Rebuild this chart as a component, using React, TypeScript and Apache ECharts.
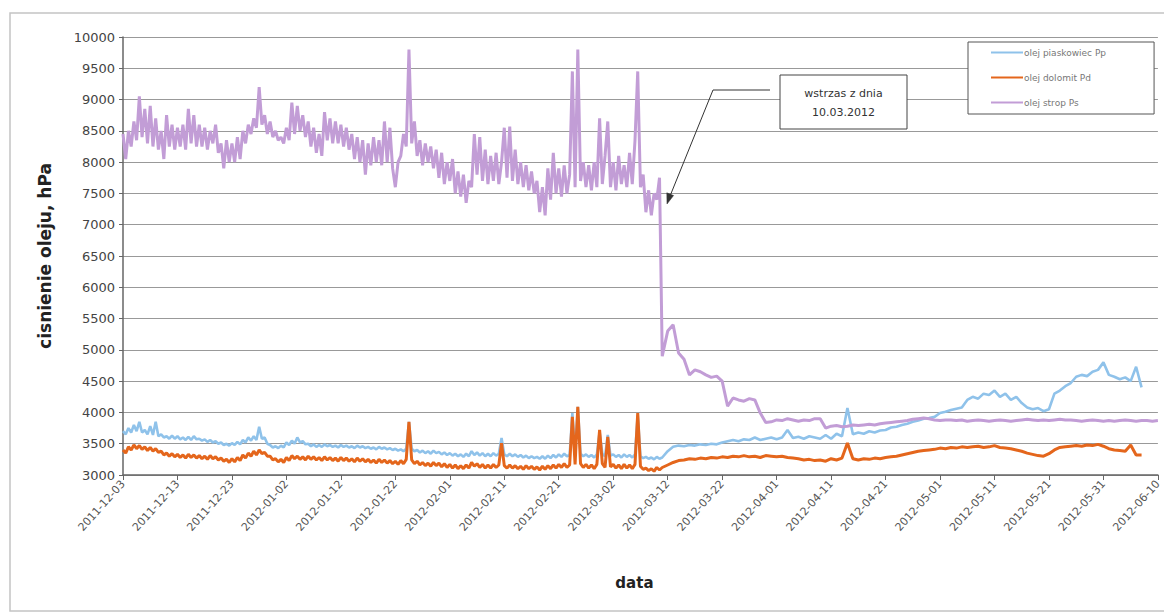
import React, { useEffect, useRef } from "react";
import * as echarts from "echarts";

// x tick labels every 10 days from 2011-12-03
const xTickLabels = [
  "2011-12-03", "2011-12-13", "2011-12-23", "2012-01-02", "2012-01-12",
  "2012-01-22", "2012-02-01", "2012-02-11", "2012-02-21", "2012-03-02",
  "2012-03-12", "2012-03-22", "2012-04-01", "2012-04-11", "2012-04-21",
  "2012-05-01", "2012-05-11", "2012-05-21", "2012-05-31", "2012-06-10",
];

const seriesNames = ["olej piaskowiec Pp", "olej dolomit Pd", "olej strop Ps"];

// Half-day samples, days 0 .. 98.5
const psPre = [
  8450, 8050, 8500, 8250, 8650, 8350, 9050, 8400, 8850, 8300,
  8900, 8250, 8700, 8200, 8500, 8050, 8750, 8250, 8600, 8200,
  8550, 8250, 8600, 8200, 8850, 8300, 8750, 8250, 8600, 8250,
  8550, 8200, 8500, 8300, 8600, 8150, 8300, 7900, 8350, 8000,
  8300, 8000, 8400, 8050, 8500, 8300, 8600, 8450, 8700, 8550,
  9200, 8600, 8750, 8450, 8650, 8400, 8500, 8350, 8400, 8300,
  8550, 8350, 8950, 8450, 8900, 8500, 8750, 8400, 8650, 8250,
  8550, 8150, 8450, 8100, 8800, 8350, 8700, 8300, 8650, 8300,
  8600, 8250, 8550, 8200, 8450, 8050, 8400, 8000, 8350, 7800,
  8300, 7950, 8400, 8000, 8350, 7950, 8650, 8000, 8550, 7900,
  7600, 8000, 8100, 8450, 8250, 9800, 8300, 8650, 8100, 8350,
  7950, 8300, 8000, 8250, 7900, 8200, 7750, 8150, 7650, 8000,
  7700, 8050, 7500, 7850, 7450, 7800, 7350, 7700, 7600, 8450,
  7800, 8400, 7700, 8200, 7650, 8100, 7700, 8150, 7650, 8000,
  8550, 7750, 8570, 7700, 8200, 7650, 8000, 7600, 7950, 7550,
  7850, 7500, 7700, 7200, 7600, 7150, 7900, 7400, 8150, 7500,
  7900, 7450, 7950, 7500, 7800, 9450, 7600, 9800, 7700, 8000,
  7600, 7950, 7550, 8000, 7600, 8700, 7650, 8100, 8650, 7600,
  8000, 7550, 8100, 7650, 7950, 7600, 8150, 7650, 8350, 9450,
  7600, 7800, 7200, 7550, 7150, 7500, 7400, 7750,
];
// Daily samples from day 99
const psPost = [
  4900, 5300, 5400, 4950, 4850, 4600, 4680, 4650, 4600, 4560,
  4580, 4500, 4100, 4230, 4200, 4180, 4220, 4200, 3990, 3840,
  3850, 3880, 3870, 3900, 3880, 3860, 3880, 3870, 3900, 3900,
  3750, 3780, 3790, 3770, 3780, 3800, 3790, 3800, 3810, 3800,
  3820, 3830, 3840, 3850, 3860, 3870, 3890, 3900, 3910, 3900,
  3880, 3870, 3880, 3880, 3870, 3880, 3860, 3870, 3880, 3870,
  3860, 3870, 3880, 3870, 3860, 3870, 3880, 3890, 3880, 3870,
  3880, 3870, 3880, 3890, 3880, 3880, 3870, 3860, 3870, 3880,
  3870, 3860, 3870, 3860, 3870, 3880, 3870, 3860, 3870, 3870,
  3860, 3870,
];

const ppPre = [
  3700, 3650, 3750, 3680, 3800, 3700, 3850, 3680, 3720, 3650,
  3780, 3640, 3850, 3620, 3650, 3600, 3620, 3580, 3630, 3580,
  3620, 3570, 3600, 3560, 3610, 3560, 3620, 3570, 3580, 3550,
  3570, 3530, 3560, 3520, 3540, 3500, 3520, 3480, 3500, 3470,
  3510, 3480, 3530, 3490, 3560, 3520, 3600, 3550, 3620, 3560,
  3770, 3580, 3600, 3500, 3480, 3440, 3460, 3430, 3470, 3440,
  3520, 3480, 3550, 3500, 3600, 3520, 3540, 3490, 3500, 3460,
  3490, 3450, 3480, 3450, 3490, 3460, 3480, 3450, 3470, 3440,
  3480, 3450, 3470, 3440, 3460, 3430, 3470, 3440, 3460, 3430,
  3450, 3420, 3440, 3410, 3450, 3420, 3440, 3410, 3430, 3400,
  3420, 3390, 3410, 3380, 3420, 3850, 3420, 3380, 3400, 3360,
  3390, 3350, 3380, 3340, 3390, 3350, 3370, 3330, 3360, 3320,
  3350, 3310, 3340, 3300, 3330, 3290, 3340, 3300, 3380, 3320,
  3360, 3310, 3350, 3300, 3340, 3300, 3350, 3310, 3340, 3590,
  3330, 3300, 3340, 3300, 3330, 3290, 3320, 3280, 3310, 3270,
  3300, 3270, 3290, 3260, 3300, 3260, 3310, 3270, 3320, 3280,
  3330, 3290, 3340, 3300, 3320, 3990, 3330, 4090, 3340, 3300,
  3330, 3290, 3320, 3280, 3330, 3690, 3340, 3300, 3640, 3310,
  3330, 3290, 3320, 3280, 3330, 3290, 3320, 3280, 3330, 3960,
  3300, 3270, 3290, 3260, 3280, 3250, 3290, 3260,
];
const ppPost = [
  3280, 3380, 3450, 3470, 3460, 3480, 3470, 3490, 3480, 3500,
  3490, 3520, 3540, 3560, 3540, 3570, 3560, 3600, 3560, 3580,
  3600, 3570, 3600, 3720, 3590, 3610, 3580, 3620, 3600, 3580,
  3640, 3580, 3660, 3620, 4070, 3650, 3680, 3660, 3700, 3680,
  3710, 3720, 3760, 3770, 3800, 3820, 3850, 3870, 3900, 3910,
  3930, 3990, 4010, 4040, 4060, 4080, 4200, 4250, 4220, 4300,
  4280, 4350, 4250, 4300, 4200, 4250, 4150, 4080, 4050, 4070,
  4020, 4050, 4300, 4350, 4420, 4470, 4570, 4600, 4580, 4650,
  4680, 4800, 4600, 4570, 4530, 4560, 4500, 4730, 4400,
];

const pdPre = [
  3400, 3350, 3450, 3400, 3480, 3420, 3470, 3410, 3450, 3390,
  3440, 3380, 3420, 3360, 3380, 3320, 3350, 3300, 3340, 3290,
  3330, 3280, 3320, 3270, 3330, 3280, 3320, 3270, 3310, 3260,
  3300, 3250, 3310, 3260, 3290, 3240, 3270, 3220, 3250, 3200,
  3260, 3210, 3280, 3230, 3320, 3270, 3350, 3300, 3380, 3320,
  3400, 3340, 3360, 3300, 3300, 3240, 3260, 3210, 3250, 3200,
  3280, 3230, 3310, 3260, 3300, 3250, 3290, 3240, 3300, 3250,
  3290, 3240, 3280, 3230, 3290, 3240, 3280, 3230, 3270, 3220,
  3280, 3230, 3270, 3220, 3260, 3210, 3270, 3220, 3260, 3210,
  3250, 3200, 3240, 3190, 3250, 3200, 3240, 3190, 3230, 3180,
  3220, 3170, 3230, 3180, 3250, 3850, 3240, 3180, 3220, 3160,
  3200, 3150, 3190, 3140, 3200, 3150, 3190, 3130, 3180, 3120,
  3170, 3110, 3160, 3100, 3150, 3100, 3160, 3110, 3200, 3140,
  3180, 3120, 3170, 3110, 3160, 3110, 3170, 3120, 3160, 3510,
  3150, 3110, 3160, 3110, 3150, 3100, 3140, 3090, 3150, 3100,
  3140, 3090, 3130, 3080, 3140, 3090, 3150, 3100, 3160, 3110,
  3170, 3120, 3180, 3120, 3160, 3930, 3170, 4090, 3180, 3120,
  3170, 3110, 3160, 3100, 3170, 3720, 3180, 3120, 3610, 3130,
  3170, 3110, 3160, 3100, 3170, 3110, 3160, 3100, 3170, 3990,
  3140, 3090, 3110, 3070, 3100, 3060, 3120, 3080,
];
const pdPost = [
  3120, 3160, 3200, 3230, 3240, 3260, 3250, 3270, 3260, 3280,
  3270, 3290, 3280, 3300, 3290, 3310, 3290, 3300, 3280, 3310,
  3300, 3290, 3300, 3280, 3270, 3260, 3240, 3250, 3230, 3240,
  3220, 3260, 3240, 3270, 3510, 3260, 3240, 3260, 3250, 3270,
  3260, 3280, 3290, 3300, 3320, 3340, 3360, 3380, 3390, 3400,
  3410, 3430, 3420, 3440, 3430, 3450, 3440, 3450, 3460, 3440,
  3450, 3470, 3440, 3430, 3420, 3400, 3380, 3350, 3330, 3310,
  3300, 3340, 3400, 3440, 3450, 3460, 3470, 3460, 3480, 3470,
  3490, 3460, 3420, 3400, 3390, 3380, 3480, 3320, 3320,
];

const PRE_STEP = 0.5;
const POST_START = 99;

function build(pre: number[], post: number[]) {
  return pre
    .map((v, i) => [i * PRE_STEP, v])
    .concat(post.map((v, i) => [POST_START + i, v]));
}

const FONT = "DejaVu Sans, Verdana, sans-serif";

export default function App() {
  const ref = useRef<HTMLDivElement>(null);
  useEffect(() => {
    if (!ref.current) return;
    const chart = echarts.init(ref.current, undefined, { renderer: "svg" });
    chart.setOption({
      animation: false,
      backgroundColor: "#ffffff",
      textStyle: { fontFamily: FONT },
      grid: { left: 123, top: 37, right: -3, bottom: 141 },
      legend: {
        data: seriesNames,
        orient: "vertical",
        left: 968,
        top: 42,
        itemWidth: 32,
        itemHeight: 10,
        itemGap: 16,
        padding: [6, 48, 7, 22],
        borderColor: "#555",
        borderWidth: 1,
        backgroundColor: "#fff",
        selectedMode: false,
        itemStyle: { opacity: 0 },
        textStyle: { fontSize: 9, color: "#777", fontFamily: FONT, padding: [0, 0, 0, -4] },
      },
      xAxis: {
        type: "value",
        min: 0,
        max: 190,
        interval: 10,
        name: "data",
        nameLocation: "middle",
        nameGap: 100,
        nameTextStyle: { fontSize: 15, fontWeight: "bold", color: "#222", fontFamily: FONT, padding: [0, 12, 0, 0] },
        axisLine: { lineStyle: { color: "#666", width: 1.5 } },
        axisTick: { show: true, length: 5, lineStyle: { color: "#666" } },
        splitLine: { show: false },
        axisLabel: {
          rotate: 48,
          fontSize: 11,
          color: "#555",
          margin: 7,
          formatter: (v: number) => xTickLabels[Math.round(v / 10)] ?? "",
        },
      },
      yAxis: {
        type: "value",
        min: 3000,
        max: 10000,
        interval: 500,
        name: "cisnienie oleju, hPa",
        nameLocation: "middle",
        nameGap: 70,
        nameTextStyle: { fontSize: 17, fontWeight: "bold", color: "#222", fontFamily: FONT },
        axisLine: { show: true, lineStyle: { color: "#666", width: 1.5 } },
        axisTick: { show: true, length: 4, lineStyle: { color: "#666" } },
        splitLine: { lineStyle: { color: "#999", width: 1.2 } },
        axisLabel: { fontSize: 13, color: "#444", margin: 8, formatter: (v: number) => String(v) },
      },
      series: [
        {
          name: seriesNames[0],
          type: "line",
          data: build(ppPre, ppPost),
          symbol: "none",
          lineStyle: { color: "#8fc2ea", width: 2.6 },
          itemStyle: { color: "#8fc2ea" },
          z: 2,
        },
        {
          name: seriesNames[2],
          type: "line",
          data: build(psPre, psPost),
          symbol: "none",
          lineStyle: { color: "#c29dd6", width: 3 },
          itemStyle: { color: "#c29dd6" },
          z: 3,
        },
        {
          name: seriesNames[1],
          type: "line",
          data: build(pdPre, pdPost),
          symbol: "none",
          lineStyle: { color: "#e4661c", width: 3 },
          itemStyle: { color: "#e4661c" },
          z: 4,
        },
      ],
      graphic: [
        {
          type: "rect",
          shape: { x: 10, y: 13, width: 1180, height: 598 },
          style: { fill: "none", stroke: "#c4c4c4", lineWidth: 1.5 },
          silent: true,
          z: -10,
        },
        {
          type: "polyline",
          shape: { points: [[770, 90], [713, 90], [668, 201]] },
          style: { fill: "none", stroke: "#333", lineWidth: 1 },
          z: 20,
        },
        {
          type: "polygon",
          shape: { points: [[667, 204], [673.6, 195.5], [666.8, 192.8]] },
          style: { fill: "#333", stroke: "#333", lineWidth: 0.5 },
          z: 20,
        },
        {
          type: "rect",
          shape: { x: 780, y: 75, width: 127, height: 54 },
          style: { fill: "#fff", stroke: "#444", lineWidth: 1 },
          z: 20,
        },
        {
          type: "text",
          x: 843.5,
          y: 93,
          style: {
            text: "wstrzas z dnia",
            fontSize: 11,
            fill: "#333",
            fontFamily: FONT,
            align: "center",
            verticalAlign: "middle",
          },
          z: 21,
        },
        {
          type: "text",
          x: 843.5,
          y: 112,
          style: {
            text: "10.03.2012",
            fontSize: 11,
            fill: "#333",
            fontFamily: FONT,
            align: "center",
            verticalAlign: "middle",
          },
          z: 21,
        },
      ],
    });
    return () => chart.dispose();
  }, []);
  return (
    <div
      ref={ref}
      style={{ position: "absolute", left: 0, top: 0, width: 1164, height: 616, background: "#fff" }}
    />
  );
}
